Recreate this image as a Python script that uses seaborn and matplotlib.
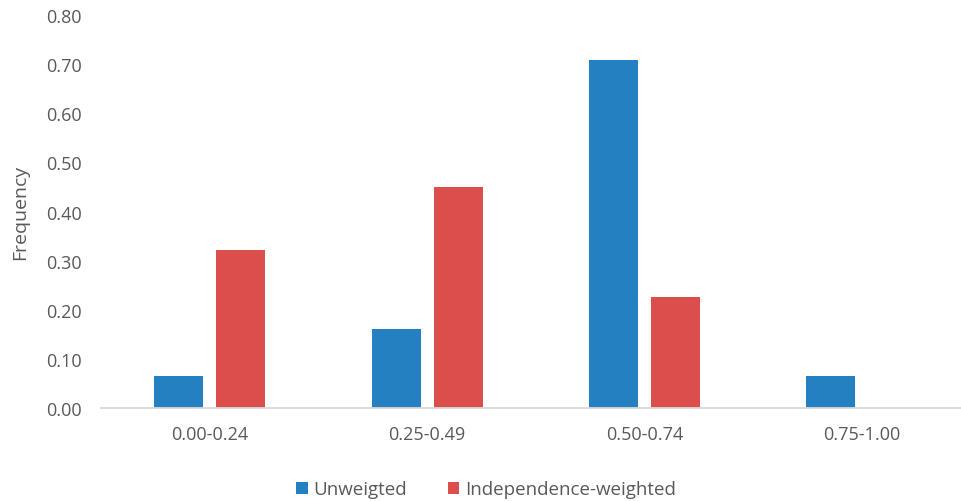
import seaborn as sns
import matplotlib.pyplot as plt
import pandas as pd

# Dados
categorias = ["0.00-0.24", "0.25-0.49", "0.50-0.74", "0.75-1.00"]
unweighted = [0.065, 0.161, 0.709, 0.065]
indep_weighted = [0.322, 0.451, 0.226, 0.0]
series = ["Unweigted", "Independence-weighted"]

df = pd.DataFrame({
    "cat": categorias * 2,
    "freq": unweighted + indep_weighted,
    "serie": [series[0]] * 4 + [series[1]] * 4,
})

sns.set_style("white")
plt.rcParams['font.family'] = ['Open Sans', 'DejaVu Sans']
cinza = "#595959"

fig = plt.figure(figsize=(9.61, 5.02), dpi=100)
ax = fig.add_axes([0.105, 0.185, 0.905, 0.783])
sns.barplot(data=df, x="cat", y="freq", hue="serie", ax=ax,
            palette=["#2480C0", "#DC4E4C"], width=0.57, gap=0.21,
            saturation=1, edgecolor="none")

ax.set_ylim(0, 0.8)
ax.set_yticks([i / 10 for i in range(9)])
ax.set_yticklabels([f"{i / 10:.2f}" for i in range(9)])
ax.set_xlim(-0.5, 3.5)
ax.tick_params(axis="both", length=0, labelsize=13, colors=cinza)
ax.tick_params(axis="y", pad=14)
ax.tick_params(axis="x", pad=12)
ax.set_xlabel("")
ax.set_ylabel("Frequency", fontsize=14, color=cinza, labelpad=12)

for s in ["left", "right", "top"]:
    ax.spines[s].set_visible(False)
ax.spines["bottom"].set_color("#D9D9D9")
ax.spines["bottom"].set_linewidth(1.3)

ax.legend(loc="lower center", bbox_to_anchor=(0.443, -0.272), ncol=2,
          frameon=False, fontsize=13.5, labelcolor=cinza,
          handlelength=0.6, handleheight=0.6, handletextpad=0.3,
          columnspacing=2.2)

plt.savefig("out.png", dpi=100)
plt.close()
